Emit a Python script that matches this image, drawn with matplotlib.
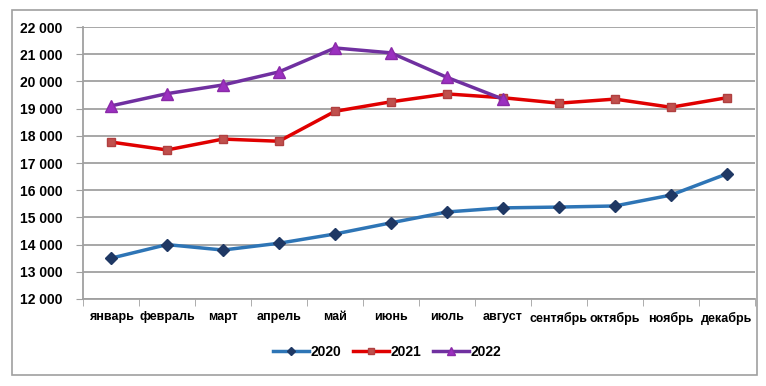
import matplotlib.pyplot as plt
from matplotlib.patches import Rectangle

months = ["январь", "февраль", "март", "апрель", "май", "июнь",
          "июль", "август", "сентябрь", "октябрь", "ноябрь", "декабрь"]
y2020 = [13500, 14000, 13800, 14050, 14390, 14800, 15200, 15350, 15380, 15420, 15820, 16600]
y2021 = [17770, 17480, 17880, 17800, 18900, 19250, 19540, 19400, 19200, 19350, 19050, 19400]
y2022 = [19100, 19550, 19870, 20350, 21230, 21050, 20150, 19350]
yticks = list(range(12000, 22001, 1000))

plt.rcParams['font.family'] = ['Liberation Sans', 'DejaVu Sans']

fig = plt.figure(figsize=(7.66, 3.86), dpi=100)
ax = fig.add_axes([0.1084, 0.2254, 0.877, 0.7046])

# outer chart frame
fig.patches.append(Rectangle((12 / 766, 1 - 375 / 386), 745 / 766, 365 / 386,
                             transform=fig.transFigure, fill=False,
                             edgecolor='#a0a0a0', linewidth=1.2))

x = list(range(len(months)))
ax.plot(x, y2020, color='#2e75b6', linewidth=2.5, marker='D', markersize=6,
        markerfacecolor='#1f3864', markeredgecolor='#1f3864', label='2020', zorder=3)
ax.plot(x, y2021, color='#e00000', linewidth=2.5, marker='s', markersize=6,
        markerfacecolor='#c0504d', markeredgecolor='#b04040', label='2021', zorder=3)
ax.plot(x[:len(y2022)], y2022, color='#7030a0', linewidth=2.5, marker='^', markersize=8,
        markerfacecolor='#9b30c0', markeredgecolor='#8a2aa8', label='2022', zorder=3)

ax.set_xlim(-0.5, len(months) - 0.5)
ax.set_ylim(12000, 22000)
ax.set_yticks(yticks)
ax.set_yticklabels([f"{v:,}".replace(",", " ") for v in yticks],
                   fontsize=10, fontweight='bold')
ax.set_xticks(x)
ax.set_xticklabels(months, fontsize=9, fontweight='bold')
ax.set_xticks([i - 0.5 for i in range(len(months) + 1)], minor=True)
ax.tick_params(axis='x', which='major', length=0, pad=9)
ax.tick_params(axis='x', which='minor', length=5, color='#a0a0a0')
ax.tick_params(axis='y', length=5, color='#a0a0a0', pad=10)

ax.grid(axis='y', color='#a0a0a0', linewidth=1.3)
ax.set_axisbelow(True)
for side in ['top', 'right']:
    ax.spines[side].set_visible(False)
for side in ['left', 'bottom']:
    ax.spines[side].set_color('#a0a0a0')
    ax.spines[side].set_linewidth(1.3)

leg = fig.legend(loc='center', bbox_to_anchor=(387 / 766, 1 - 352 / 386), ncol=3,
                 frameon=False, prop={'weight': 'bold', 'size': 10},
                 handlelength=2.6, columnspacing=0.8, handletextpad=0.15,
                 markerscale=0.75)

fig.savefig("out.png", dpi=100)
